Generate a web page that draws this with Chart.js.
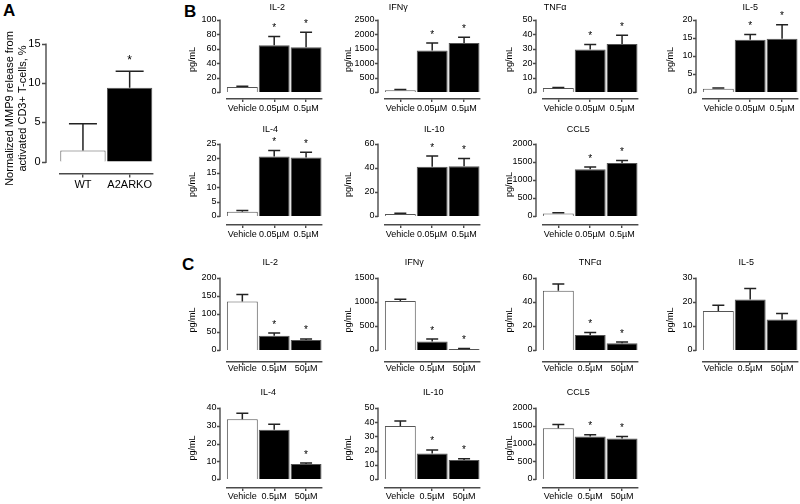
<!DOCTYPE html>
<html>
<head>
<meta charset="utf-8">
<script src="https://cdn.jsdelivr.net/npm/chart.js@4.4.0/dist/chart.umd.min.js"></script>
<style>
body { margin: 0; width: 800px; height: 504px; background: #fff; position: relative; overflow: hidden; font-family: "Liberation Sans", Arial, sans-serif; }
canvas { position: absolute; }
.panel { position: absolute; font-weight: bold; font-size: 17px; line-height: 17px; }
</style>
</head>
<body>
<div class="panel" style="left:3px;top:2px">A</div>
<div class="panel" style="left:184px;top:3px">B</div>
<div class="panel" style="left:182px;top:256px">C</div>
<script>
// panel A
const aGroups = ['WT', 'A2ARKO'];
const aMean = [1.4, 9.4];
const aErr = [3.4, 2.1];
const aStars = [false, true];
const aTicks = [0, 5, 10, 15];

// panel B
const bDoses = ['Vehicle', '0.05µM', '0.5µM'];
const bStars = [false, true, true];
const bIL2 = [7, 65, 62], bIL2Err = [1, 12, 21], bIL2Ticks = [0, 20, 40, 60, 80, 100];
const bIFN = [60, 1440, 1700], bIFNErr = [25, 260, 200], bIFNTicks = [0, 500, 1000, 1500, 2000, 2500];
const bTNF = [2.7, 29.5, 33.4], bTNFErr = [0.5, 3.5, 6], bTNFTicks = [0, 10, 20, 30, 40, 50];
const bIL5 = [0.9, 14.5, 14.8], bIL5Err = [0.2, 1.5, 3.9], bIL5Ticks = [0, 5, 10, 15, 20];
const bIL4 = [1.5, 20.7, 20.3], bIL4Err = [0.4, 2, 1.8], bIL4Ticks = [0, 5, 10, 15, 20, 25];
const bIL10 = [1.7, 41, 41.4], bIL10Err = [0.5, 9, 6.6], bIL10Ticks = [0, 20, 40, 60];
const bCCL5 = [70, 1300, 1470], bCCL5Err = [20, 60, 75], bCCL5Ticks = [0, 500, 1000, 1500, 2000];

// panel C
const cDoses = ['Vehicle', '0.5µM', '50µM'];
const cIL2 = [135, 39.6, 27.6], cIL2Err = [19, 7.5, 3], cIL2Ticks = [0, 50, 100, 150, 200], cIL2Stars = [false, true, true];
const cIFN = [1020, 177, 21], cIFNErr = [35, 50, 10], cIFNTicks = [0, 500, 1000, 1500], cIFNStars = [false, true, true];
const cTNF = [49.3, 12.4, 5.6], cTNFErr = [5.6, 2.2, 1], cTNFTicks = [0, 20, 40, 60], cTNFStars = [false, true, true];
const cIL5 = [16.2, 21, 12.7], cIL5Err = [2.4, 4.6, 2.5], cIL5Ticks = [0, 10, 20, 30], cIL5Stars = [false, false, false];
const cIL4 = [33.6, 27.7, 8.4], cIL4Err = [3.4, 3.1, 0.6], cIL4Ticks = [0, 10, 20, 30, 40], cIL4Stars = [false, false, true];
const cIL10 = [37.3, 17.9, 13.4], cIL10Err = [3.5, 2.6, 0.8], cIL10Ticks = [0, 10, 20, 30, 40, 50], cIL10Stars = [false, true, true];
const cCCL5 = [1430, 1200, 1143], cCCL5Err = [105, 48, 57], cCCL5Ticks = [0, 500, 1000, 1500, 2000], cCCL5Stars = [false, true, true];

const ff = '"Liberation Sans", Arial, sans-serif';
const axisColor = '#4a4a4a';

// layout of the small graphs (page pixels)
const rowB1 = {top: 20, zero: 92, bottom: 99, titleY: 8, labelPad: 1};
const rowB2 = {top: 144, zero: 216, bottom: 225, titleY: 130, labelPad: 1};
const rowC1 = {top: 278, zero: 350, bottom: 362, titleY: 263, labelPad: -2};
const rowC2 = {top: 408, zero: 479, bottom: 488, titleY: 393, labelPad: 0};
const colLeft = [226, 384, 542, 702];
const colYTitle = [192, 348, 509, 670];

const errPlugin = {
    id: 'errbars',
    afterDatasetsDraw(chart, args, o) {
        const ctx = chart.ctx
        const y = chart.scales.y
        const ds = chart.data.datasets[0]
        const meta = chart.getDatasetMeta(0)
        const ax = Math.round(chart.chartArea.left - o.gap)
        ctx.save()
        // y axis only from 0 to the top tick, GraphPad style
        ctx.strokeStyle = axisColor
        ctx.lineWidth = 1.4
        ctx.beginPath()
        ctx.moveTo(ax, Math.round(y.getPixelForValue(y.max)) - 0.5)
        ctx.lineTo(ax, Math.round(y.getPixelForValue(0)) + 1)
        y.ticks.forEach(t => {
            const p = Math.round(y.getPixelForValue(t.value)) + 0.5
            ctx.moveTo(ax - o.tick, p)
            ctx.lineTo(ax, p)
        })
        ctx.stroke()

        ctx.strokeStyle = '#222'
        ctx.lineWidth = 1.5
        meta.data.forEach((bar, i) => {
            const hi = y.getPixelForValue(ds.data[i] + ds.errors[i])
            ctx.beginPath()
            ctx.moveTo(bar.x, bar.y)
            ctx.lineTo(bar.x, hi)
            ctx.moveTo(bar.x - o.cap, hi)
            ctx.lineTo(bar.x + o.cap, hi)
            ctx.stroke()
            if (ds.stars[i]) {
                ctx.fillStyle = '#000'
                ctx.font = o.starSize + 'px ' + ff
                ctx.textAlign = 'center'
                ctx.textBaseline = 'alphabetic'
                ctx.fillText('*', bar.x, hi - o.starGap + o.starSize * 0.55)
            }
        })

        if (o.title) {
            ctx.fillStyle = '#000'
            ctx.font = '9px ' + ff
            ctx.textAlign = 'center'
            ctx.textBaseline = 'middle'
            ctx.fillText(o.title, (chart.chartArea.left + chart.chartArea.right) / 2 + o.titleDx, o.titleY)
        }
        ctx.restore()
    }
}

function drawGraph(g) {
    const max = g.ticks[g.ticks.length - 1]
    const min = -max * (g.bottom - g.zero) / (g.zero - g.top)
    const lh = g.yTitleSize * 1.2
    const yW = g.left - (g.yTitleX - lh / 2)
    const padTop = g.padTop
    const xH = 22

    const canvas = document.createElement('canvas')
    const w = Math.round(yW + g.width + 6)
    const h = Math.round(padTop + (g.bottom - g.top) + xH + 2)
    canvas.width = w
    canvas.height = h
    canvas.style.left = (g.left - yW) + 'px'
    canvas.style.top = (g.top - padTop) + 'px'
    canvas.style.width = w + 'px'
    canvas.style.height = h + 'px'
    document.body.appendChild(canvas)

    new Chart(canvas, {
        type: 'bar',
        data: {
            labels: g.labels,
            datasets: [{
                data: g.mean,
                errors: g.err,
                stars: g.stars,
                backgroundColor: g.mean.map((v, i) => i === 0 ? '#ffffff' : '#000000'),
                borderColor: '#555',
                borderWidth: 1,
                barPercentage: g.barPct,
                categoryPercentage: 1
            }]
        },
        options: {
            responsive: false,
            animation: false,
            devicePixelRatio: 1,
            layout: {padding: {top: padTop, left: 0, right: 6, bottom: 2}},
            plugins: {
                legend: {display: false},
                tooltip: {enabled: false},
                errbars: {
                    gap: g.gap, tick: g.tick, cap: g.cap,
                    starSize: g.starSize, starGap: g.starGap,
                    title: g.title, titleDx: g.titleDx || 0, titleY: g.titleY - (g.top - padTop)
                }
            },
            scales: {
                x: {
                    grid: {display: true, drawOnChartArea: false, offset: false, tickLength: g.tick, color: axisColor, lineWidth: 1.4},
                    border: {color: axisColor, width: 1.4},
                    ticks: {font: {family: ff, size: g.fontSize}, color: '#000', padding: g.labelPad, autoSkip: false, maxRotation: 0},
                    afterFit: s => { s.height = xH }
                },
                y: {
                    min: min,
                    max: max,
                    grid: {display: false, drawTicks: false},
                    border: {display: false},
                    ticks: {font: {family: ff, size: g.fontSize}, color: '#000', padding: g.gap + g.tick + 1, autoSkip: false, callback: v => String(v)},
                    afterBuildTicks: s => { s.ticks = g.ticks.map(v => ({value: v})) },
                    afterFit: s => { s.width = yW },
                    title: {display: true, text: g.yTitle, color: '#000', font: {family: ff, size: g.yTitleSize}, padding: 0}
                }
            }
        },
        plugins: [errPlugin]
    })
}

// panel A
drawGraph({
    labels: aGroups, mean: aMean, err: aErr, stars: aStars, ticks: aTicks,
    yTitle: ['Normalized MMP9 release from', 'activated CD3+ T-cells, %'], yTitleSize: 11, yTitleX: 10,
    left: 60, width: 93, top: 43, zero: 163, bottom: 175, padTop: 25, labelPad: 1,
    gap: 14, tick: 4, cap: 14, starSize: 12, starGap: 14, fontSize: 11, barPct: 0.97
})

function small(title, labels, mean, err, stars, ticks, row, col, titleDx) {
    drawGraph({
        labels: labels, mean: mean, err: err, stars: stars, ticks: ticks,
        yTitle: 'pg/mL', yTitleSize: 9, yTitleX: colYTitle[col],
        left: colLeft[col], width: 96, top: row.top, zero: row.zero, bottom: row.bottom,
        padTop: 20, labelPad: row.labelPad, title: title, titleY: row.titleY, titleDx: titleDx,
        gap: 6, tick: 3, cap: 6, starSize: 10, starGap: 11, fontSize: 9, barPct: 0.97
    })
}

small('IL-2', bDoses, bIL2, bIL2Err, bStars, bIL2Ticks, rowB1, 0, 3)
small('IFNγ', bDoses, bIFN, bIFNErr, bStars, bIFNTicks, rowB1, 1, -34)
small('TNFα', bDoses, bTNF, bTNFErr, bStars, bTNFTicks, rowB1, 2, -35)
small('IL-5', bDoses, bIL5, bIL5Err, bStars, bIL5Ticks, rowB1, 3, 0)
small('IL-4', bDoses, bIL4, bIL4Err, bStars, bIL4Ticks, rowB2, 0, -4)
small('IL-10', bDoses, bIL10, bIL10Err, bStars, bIL10Ticks, rowB2, 1, 2)
small('CCL5', bDoses, bCCL5, bCCL5Err, bStars, bCCL5Ticks, rowB2, 2, -12)

small('IL-2', cDoses, cIL2, cIL2Err, cIL2Stars, cIL2Ticks, rowC1, 0, -4)
small('IFNγ', cDoses, cIFN, cIFNErr, cIFNStars, cIFNTicks, rowC1, 1, -18)
small('TNFα', cDoses, cTNF, cTNFErr, cTNFStars, cTNFTicks, rowC1, 2, 0)
small('IL-5', cDoses, cIL5, cIL5Err, cIL5Stars, cIL5Ticks, rowC1, 3, -4)
small('IL-4', cDoses, cIL4, cIL4Err, cIL4Stars, cIL4Ticks, rowC2, 0, -6)
small('IL-10', cDoses, cIL10, cIL10Err, cIL10Stars, cIL10Ticks, rowC2, 1, 1)
small('CCL5', cDoses, cCCL5, cCCL5Err, cCCL5Stars, cCCL5Ticks, rowC2, 2, -12)
</script>
</body>
</html>
